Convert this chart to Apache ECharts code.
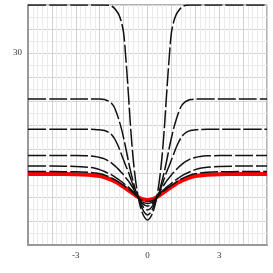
<!DOCTYPE html>
<html><head><meta charset="utf-8">
<script src="https://cdn.jsdelivr.net/npm/echarts@6/dist/echarts.min.js"></script>
<style>html,body{margin:0;padding:0;background:#fff}#c{width:273px;height:273px}</style>
</head><body><div id="c"></div>
<script>
const xs = [-5,-4,-3,-2.5,-2.2,-2,-1.8,-1.6,-1.5,-1.4,-1.3,-1.2,-1.1,-1,-0.9,-0.8,-0.7,-0.6,-0.5,-0.4,-0.3,-0.2,-0.1,0,0.1,0.2,0.3,0.4,0.5,0.6,0.7,0.8,0.9,1,1.1,1.2,1.3,1.4,1.5,1.6,1.8,2,2.2,2.5,3,4,5];
const curve1 = [40,40,40,40,40,40,40,39.95,39.75,39.4,38.8,38,36.6,34.2,28.5,21.5,14,8,3.5,0.3,-2.0,-3.5,-4.4,-4.8,-4.4,-3.5,-2.0,0.3,3.5,8,14,21.5,28.5,34.2,36.6,38,38.8,39.4,39.75,39.95,40,40,40,40,40,40,40];
const curve2 = [20.4,20.4,20.4,20.4,20.4,20.4,20.3,19.9,19.5,18.8,17.6,16.1,14.4,12.3,10,7.5,5.2,3.2,1.4,0,-1.4,-2.6,-3.4,-3.75,-3.4,-2.6,-1.4,0,1.4,3.2,5.2,7.5,10,12.3,14.4,16.1,17.6,18.8,19.5,19.9,20.3,20.4,20.4,20.4,20.4,20.4,20.4];
const curve3 = [14.1,14.1,14.1,14.1,14.08,14.0,13.85,13.4,12.95,12.3,11.4,10.3,9.0,7.7,6.4,5.2,3.8,2.4,1.15,0,-1.0,-1.9,-2.5,-2.7,-2.5,-1.9,-1.0,0,1.15,2.4,3.8,5.2,6.4,7.7,9.0,10.3,11.4,12.3,12.95,13.4,13.85,14.0,14.08,14.1,14.1,14.1,14.1];
const curve4 = [8.65,8.65,8.63,8.58,8.45,8.25,7.95,7.4,7.05,6.65,6.2,5.7,5.15,4.6,3.95,3.35,2.6,1.8,0.9,0.05,-0.7,-1.35,-1.75,-1.9,-1.75,-1.35,-0.7,0.05,0.9,1.8,2.6,3.35,3.95,4.6,5.15,5.7,6.2,6.65,7.05,7.4,7.95,8.25,8.45,8.58,8.63,8.65,8.65];
const curve5 = [6.46,6.45,6.38,6.2,6.0,5.7,5.3,4.85,4.6,4.3,3.95,3.6,3.25,2.85,2.45,2.05,1.6,1.15,0.6,0,-0.6,-1.0,-1.27,-1.35,-1.27,-1.0,-0.6,0,0.6,1.15,1.6,2.05,2.45,2.85,3.25,3.6,3.95,4.3,4.6,4.85,5.3,5.7,6.0,6.2,6.38,6.45,6.46];
const curve6 = [5.31,5.3,5.25,5.15,5.0,4.85,4.6,4.2,3.95,3.7,3.4,3.1,2.75,2.4,2.05,1.7,1.3,0.9,0.45,0,-0.5,-0.75,-0.9,-0.95,-0.9,-0.75,-0.5,0,0.45,0.9,1.3,1.7,2.05,2.4,2.75,3.1,3.4,3.7,3.95,4.2,4.6,4.85,5.0,5.15,5.25,5.3,5.31];
const curveRed = [4.8,4.8,4.75,4.65,4.5,4.35,4.1,3.75,3.55,3.3,3.05,2.75,2.42,2.1,1.75,1.4,1.05,0.7,0.35,0.02,-0.25,-0.45,-0.56,-0.6,-0.56,-0.45,-0.25,0.02,0.35,0.7,1.05,1.4,1.75,2.1,2.42,2.75,3.05,3.3,3.55,3.75,4.1,4.35,4.5,4.65,4.75,4.8,4.8];
const xTickLabels = [-3, 0, 3];
const yTickLabels = [30];

const pair = arr => xs.map((x, i) => [x, arr[i]]);
const blackCurves = [curve1, curve2, curve3, curve4, curve5, curve6];
const font = 'Liberation Serif';

const series = [{
  type: 'line', data: pair(curveRed), showSymbol: false, smooth: 0.3,
  lineStyle: { color: '#ff0000', width: 4 }, z: 2
}].concat(blackCurves.map(c => ({
  type: 'line', data: pair(c), showSymbol: false, smooth: 0.3,
  lineStyle: { color: '#111', width: 1.5, type: [18, 3] }, z: 3
})));

const chart = echarts.init(document.getElementById('c'), null, { renderer: 'canvas' });
chart.setOption({
  animation: false,
  backgroundColor: '#fff',
  grid: { left: 28, right: 6, top: 5, bottom: 28, show: true, borderColor: '#666', borderWidth: 1 },
  xAxis: {
    type: 'value', min: -5, max: 5, interval: 1,
    axisLine: { show: true, onZero: false, lineStyle: { color: '#999', width: 2 } },
    axisTick: { show: false },
    axisLabel: { formatter: v => xTickLabels.includes(v) ? String(v) : '', fontFamily: font, fontSize: 9, color: '#333', margin: 6 },
    splitLine: { show: true, lineStyle: { color: '#d2d2d2', width: 1 } },
    minorTick: { show: false, splitNumber: 5 },
    minorSplitLine: { show: true, lineStyle: { color: '#ebebeb', width: 1 } }
  },
  yAxis: {
    type: 'value', min: -10, max: 40, interval: 5,
    axisLine: { show: true, onZero: false, lineStyle: { color: '#999', width: 2 } },
    axisTick: { show: false },
    axisLabel: { formatter: v => yTickLabels.includes(v) ? String(v) : '', fontFamily: font, fontSize: 9, color: '#333', margin: 6 },
    splitLine: { show: true, lineStyle: { color: '#d2d2d2', width: 1 } },
    minorTick: { show: false, splitNumber: 2 },
    minorSplitLine: { show: true, lineStyle: { color: '#ebebeb', width: 1 } }
  },
  series: series
});
</script>
</body></html>
